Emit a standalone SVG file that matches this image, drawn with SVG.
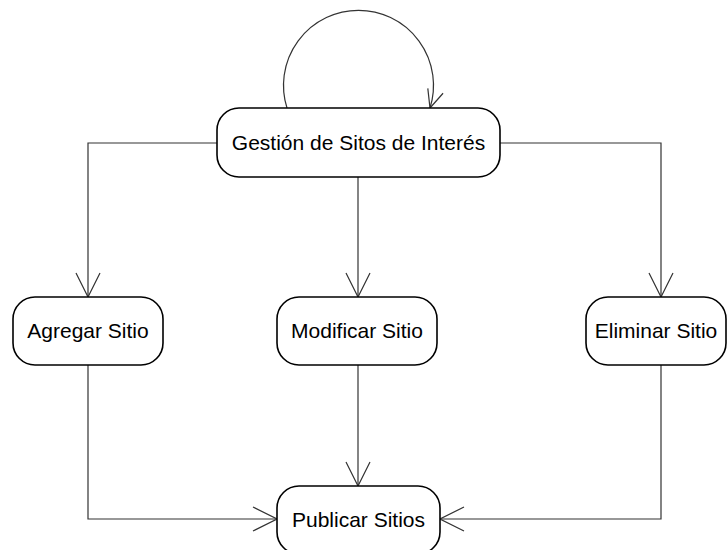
<svg xmlns="http://www.w3.org/2000/svg" width="727" height="550" viewBox="0 0 727 550">
  <style>
    .state rect { fill: #ffffff; stroke: #000000; stroke-width: 1.6; }
    .state text { font-family: "Liberation Sans", Arial, sans-serif; font-size: 21px; fill: #000000; text-anchor: middle; }
    .edge { fill: none; stroke: #333333; stroke-width: 1.2; }
  </style>
  <defs>
    <marker id="open" viewBox="0 0 26 26" refX="25" refY="13" markerWidth="26" markerHeight="26" markerUnits="userSpaceOnUse" orient="auto">
      <path d="M1,1 L25,13 L1,25" fill="none" stroke="#333333" stroke-width="1.2"/>
    </marker>
    <marker id="openSmall" viewBox="0 0 20 20" refX="19" refY="10" markerWidth="20" markerHeight="20" markerUnits="userSpaceOnUse" orient="auto">
      <path d="M1,2 L19,10 L1,18" fill="none" stroke="#333333" stroke-width="1.2"/>
    </marker>
  </defs>

  <g id="connectors">
    <!-- self loop on the management state -->
    <path class="edge" d="M287,108 A75,75 0 1 1 430,108" marker-end="url(#openSmall)"/>
    <!-- management to each action -->
    <path class="edge" d="M217,143 H88 V297" marker-end="url(#open)"/>
    <path class="edge" d="M358,177 V297" marker-end="url(#open)"/>
    <path class="edge" d="M500,143 H661 V297" marker-end="url(#open)"/>
    <!-- actions to publishing -->
    <path class="edge" d="M88,365 V519 H277" marker-end="url(#open)"/>
    <path class="edge" d="M358,365 V486" marker-end="url(#open)"/>
    <path class="edge" d="M661,365 V519 H440" marker-end="url(#open)"/>
  </g>

  <g id="gestion" class="state">
    <rect x="217" y="108" width="283" height="69" rx="22" ry="22"/>
    <text x="358.5" y="150">Gestión de Sitos de Interés</text>
  </g>
  <g id="agregar" class="state">
    <rect x="13" y="297" width="150" height="68" rx="22" ry="22"/>
    <text x="88" y="338">Agregar Sitio</text>
  </g>
  <g id="modificar" class="state">
    <rect x="277" y="297" width="160" height="68" rx="22" ry="22"/>
    <text x="357" y="338">Modificar Sitio</text>
  </g>
  <g id="eliminar" class="state">
    <rect x="586" y="297" width="140" height="68" rx="22" ry="22"/>
    <text x="656" y="338">Eliminar Sitio</text>
  </g>
  <g id="publicar" class="state">
    <rect x="277" y="486" width="163" height="68" rx="22" ry="22"/>
    <text x="358.5" y="527">Publicar Sitios</text>
  </g>
</svg>
